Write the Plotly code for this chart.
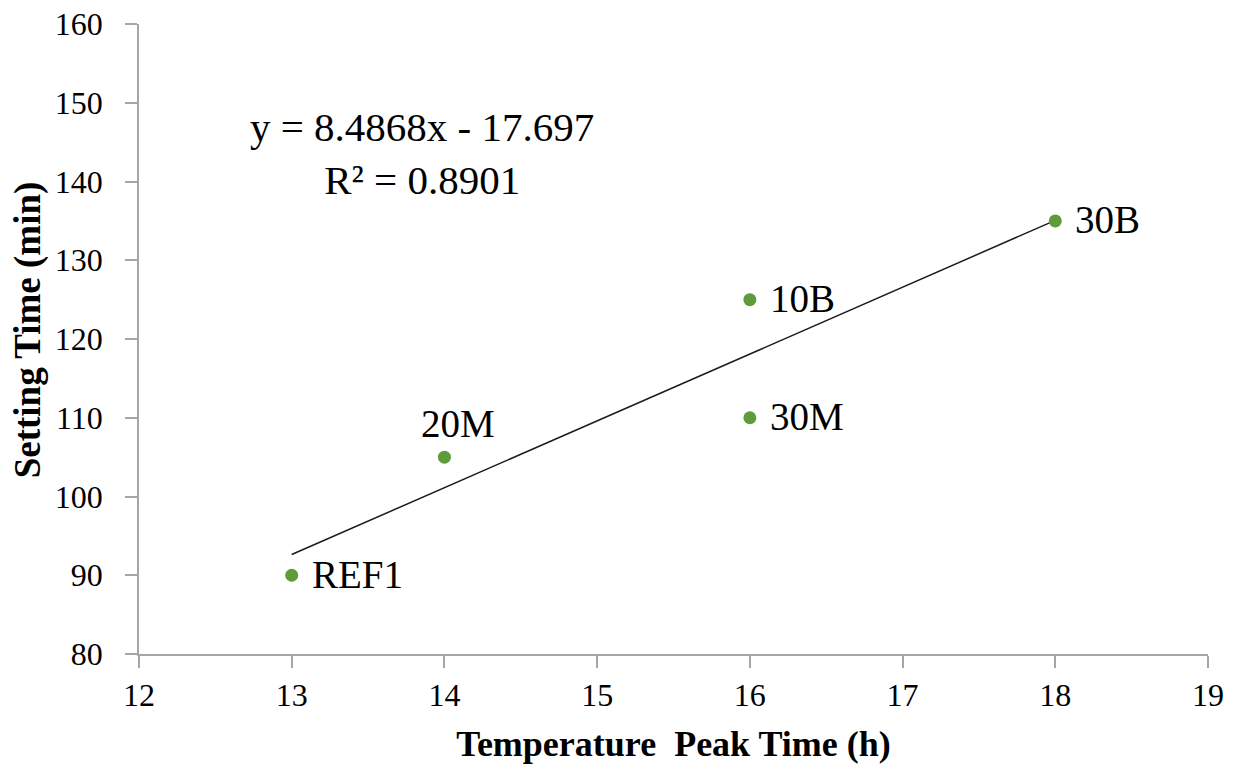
import plotly.graph_objects as go

# Data
labels = ["REF1", "20M", "10B", "30M", "30B"]
peak_time_h = [13, 14, 16, 16, 18]
setting_time_min = [90, 105, 125, 110, 135]
label_side = ["right", "top", "right", "right", "right"]

slope = 8.4868
intercept = -17.697
r2 = 0.8901
trend_x = [min(peak_time_h), max(peak_time_h)]
trend_y = [slope * x + intercept for x in trend_x]

x_ticks = [12, 13, 14, 15, 16, 17, 18, 19]
y_ticks = [80, 90, 100, 110, 120, 130, 140, 150, 160]

FONT = "Liberation Serif"
AXIS_COLOR = "#A6A6A6"

fig = go.Figure()
fig.add_trace(go.Scatter(
    x=trend_x, y=trend_y, mode="lines",
    line=dict(color="#1a1a1a", width=1.5), hoverinfo="skip", showlegend=False))
fig.add_trace(go.Scatter(
    x=peak_time_h, y=setting_time_min, mode="markers",
    marker=dict(color="#5E9B3A", size=13),
    showlegend=False))

for lab, xv, yv, side in zip(labels, peak_time_h, setting_time_min, label_side):
    if side == "right":
        fig.add_annotation(x=xv, y=yv, text=lab, showarrow=False,
                           xanchor="left", yanchor="middle", xshift=18, yshift=1,
                           font=dict(family=FONT, size=39, color="black"))
    else:
        fig.add_annotation(x=xv, y=yv, text=lab, showarrow=False,
                           xanchor="center", yanchor="bottom", xshift=14, yshift=10,
                           font=dict(family=FONT, size=39, color="black"))

fig.add_annotation(
    x=13.853, y=143.6, xref="x", yref="y",
    text=f"y = {slope}x - {abs(intercept)}<br>R² = {r2}",
    showarrow=False, align="center",
    font=dict(family=FONT, size=41, color="black"),
    xanchor="center", yanchor="middle")

# y-axis title as a rotated annotation (placed like the reference)
fig.add_annotation(
    x=-0.104, y=0.515, xref="paper", yref="paper",
    text="<b>Setting Time (min)</b>", textangle=-90, showarrow=False,
    xanchor="center", yanchor="middle",
    font=dict(family=FONT, size=37, color="black"))

fig.update_layout(
    width=1236, height=767,
    paper_bgcolor="white", plot_bgcolor="white",
    margin=dict(l=139, r=28, t=24, b=113),
    font=dict(family=FONT, color="black"),
)
fig.update_xaxes(
    range=[12, 19], tickvals=x_ticks, showgrid=False, zeroline=False,
    showline=True, linecolor=AXIS_COLOR, linewidth=1.5, automargin=False,
    ticks="outside", ticklen=12, tickcolor=AXIS_COLOR, tickwidth=1.5,
    tickfont=dict(family=FONT, size=32, color="black"),
    ticklabelstandoff=0, ticklabeloverflow="allow",
    title=dict(text="<b>Temperature  Peak Time (h)</b>",
               font=dict(family=FONT, size=36, color="black"), standoff=19))
fig.update_yaxes(
    range=[80, 160], tickvals=y_ticks, showgrid=False, zeroline=False,
    showline=True, linecolor=AXIS_COLOR, linewidth=1.5, automargin=False,
    ticks="outside", ticklen=12, tickcolor=AXIS_COLOR, tickwidth=1.5,
    tickfont=dict(family=FONT, size=32, color="black"),
    ticklabelstandoff=16, ticklabeloverflow="allow")

fig.write_html("out.html",
               config={"displayModeBar": False},
               post_script="document.body.style.margin='0';document.body.style.overflow='hidden';")
